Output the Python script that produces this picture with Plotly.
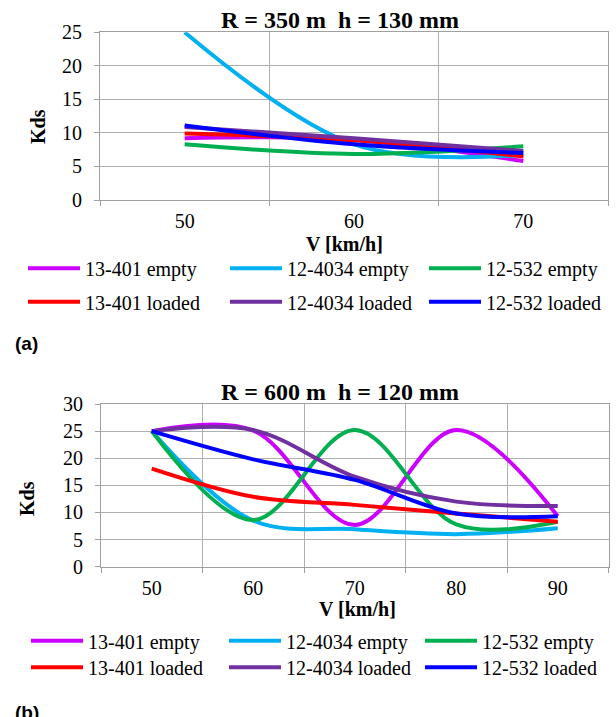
import plotly.graph_objects as go

W, H = 616, 717

# ---------------- data ----------------
V_a = [50, 60, 70]
V_b = [50, 60, 70, 80, 90]

series_names = ["13-401 empty", "12-4034 empty", "12-532 empty",
                "13-401 loaded", "12-4034 loaded", "12-532 loaded"]
series_colors = ["#CC00FF", "#00B0F0", "#00B050", "#FF0000", "#7030A0", "#0000FF"]

# (a) R = 350 m, h = 130 mm
a_13401_empty = [9.2, 9.0, 5.8]
a_124034_empty = [25.0, 8.3, 6.7]
a_12532_empty = [8.3, 6.85, 8.0]
a_13401_loaded = [9.9, 8.9, 6.5]
a_124034_loaded = [10.9, 9.2, 7.3]
a_12532_loaded = [11.1, 8.3, 7.0]

# (b) R = 600 m, h = 120 mm
b_13401_empty = [25.0, 25.1, 7.7, 25.2, 9.3]
b_124034_empty = [25.0, 8.5, 6.9, 6.0, 7.1]
b_12532_empty = [25.0, 8.6, 25.2, 7.8, 8.3]
b_13401_loaded = [18.1, 12.9, 11.4, 9.8, 8.3]
b_124034_loaded = [25.0, 25.2, 16.6, 12.0, 11.2]
b_12532_loaded = [25.0, 19.8, 16.0, 9.8, 9.3]

ticks_a = [50, 60, 70]
ticks_b = [50, 60, 70, 80, 90]

title_a = "R = 350 m \u00a0h = 130 mm"
title_b = "R = 600 m \u00a0h = 120 mm"

# ---------------- helpers ----------------
def px(x):
    return x / W

def py(y):
    return 1 - y / H

SERIF = "Liberation Serif"
GRID = "#B0B0B0"
AXIS = "#A0A0A0"

fig = go.Figure()

data_a = [a_13401_empty, a_124034_empty, a_12532_empty,
          a_13401_loaded, a_124034_loaded, a_12532_loaded]
data_b = [b_13401_empty, b_124034_empty, b_12532_empty,
          b_13401_loaded, b_124034_loaded, b_12532_loaded]

def legend_id(n):
    return "legend" if n == 1 else f"legend{n}"

for i, (nm, col, ys) in enumerate(zip(series_names, series_colors, data_a)):
    fig.add_trace(go.Scatter(
        x=V_a, y=ys, name=nm, mode="lines",
        line=dict(color=col, width=4, shape="spline", smoothing=1.0),
        xaxis="x", yaxis="y", legend=legend_id(i + 1),
    ))

for i, (nm, col, ys) in enumerate(zip(series_names, series_colors, data_b)):
    fig.add_trace(go.Scatter(
        x=V_b, y=ys, name=nm, mode="lines",
        line=dict(color=col, width=4, shape="spline", smoothing=1.0),
        xaxis="x2", yaxis="y2", legend=legend_id(i + 7),
    ))

tickfont = dict(family=SERIF, size=20, color="#000000")

def xaxis_cfg(domain, rng, tickv, anchor):
    bounds = [rng[0] + 10 * k for k in range(int((rng[1] - rng[0]) / 10) + 1)]
    return dict(
        domain=domain, range=rng, anchor=anchor, automargin=False,
        tickmode="array", tickvals=tickv, ticktext=[str(t) for t in tickv],
        ticks="", showgrid=False, zeroline=False,
        showline=True, linecolor=AXIS, linewidth=1, mirror=True,
        tickfont=tickfont, ticklabelstandoff=3,
        minor=dict(tickmode="array", tickvals=bounds, showgrid=True,
                   gridcolor=GRID, gridwidth=1, ticks="outside",
                   ticklen=5, tickcolor=AXIS),
    )

def yaxis_cfg(domain, rng, anchor):
    return dict(
        domain=domain, range=rng, anchor=anchor, automargin=False,
        tick0=0, dtick=5, showgrid=True, gridcolor=GRID, gridwidth=1,
        zeroline=False, showline=True, linecolor=AXIS, linewidth=1, mirror=True,
        ticks="outside", ticklen=5, tickcolor=AXIS,
        tickfont=tickfont, ticklabelstandoff=8,
    )

ITEMW = 52
legend_common = dict(
    orientation="h", xanchor="left", yanchor="middle",
    font=dict(family=SERIF, size=20, color="#000000"),
    bgcolor="rgba(0,0,0,0)", borderwidth=0,
    itemwidth=ITEMW,
)

# legend text start positions (px) and row centres (px)
leg_text_x_a = [87, 289, 488]
leg_rows_a = [268.3, 301.7]
leg_text_x_b = [90, 288, 484]
leg_rows_b = [640.7, 667.3]

legends = {}
n = 1
for rows, cols in ((leg_rows_a, leg_text_x_a), (leg_rows_b, leg_text_x_b)):
    for r in rows:
        for c in cols:
            legends[legend_id(n)] = dict(legend_common, x=px(c - ITEMW - 12), y=py(r))
            n += 1

fig.update_layout(
    width=W, height=H,
    margin=dict(l=0, r=0, t=0, b=0, autoexpand=False),
    paper_bgcolor="white", plot_bgcolor="white",
    xaxis=xaxis_cfg([px(100), px(608)], [45, 75], ticks_a, "y"),
    yaxis=yaxis_cfg([py(200), py(32.3)], [0, 25], "x"),
    xaxis2=xaxis_cfg([px(101), px(608.5)], [45, 95], ticks_b, "y2"),
    yaxis2=yaxis_cfg([py(566.7), py(404)], [0, 30], "x2"),
    showlegend=True,
    **legends,
)

ann = []
def add_text(text, x, y, size, bold=True, family=SERIF, angle=0):
    ann.append(dict(
        text=f"<b>{text}</b>" if bold else text,
        x=px(x), y=py(y), xref="paper", yref="paper",
        xanchor="center", yanchor="middle", showarrow=False,
        textangle=angle, font=dict(family=family, size=size, color="#000000"),
    ))

add_text(title_a, 340, 20, 24)
add_text(title_b, 340, 392, 24)
add_text("V [km/h]", 344, 244, 20)
add_text("V [km/h]", 357, 609, 20)
add_text("Kds", 38, 127, 20, angle=-90)
add_text("Kds", 27, 499, 20, angle=-90)
add_text("(a)", 26.5, 344, 19, family="Liberation Sans")
add_text("(b)", 26.5, 712, 19, family="Liberation Sans")
fig.update_layout(annotations=ann)

fig.write_html(
    "out.html",
    config={"displayModeBar": False},
    post_script="document.body.style.margin='0';document.body.style.overflow='hidden';",
)
